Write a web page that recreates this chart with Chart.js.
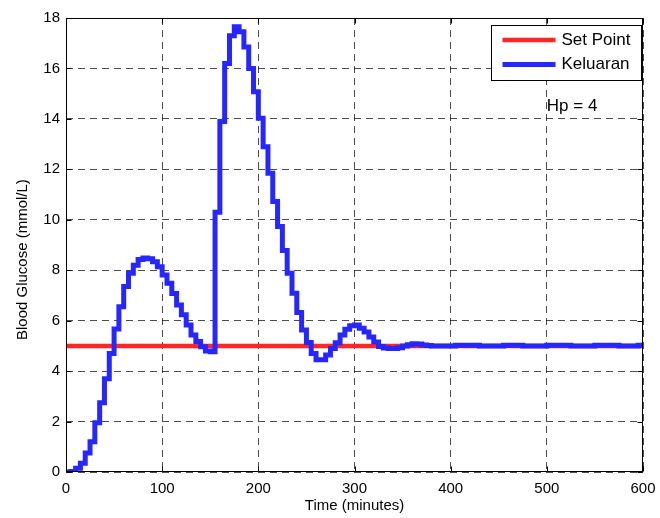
<!DOCTYPE html>
<html>
<head>
<meta charset="utf-8">
<script src="https://cdn.jsdelivr.net/npm/chart.js@4.4.1/dist/chart.umd.min.js"></script>
<style>
  html, body { margin: 0; padding: 0; background: #fff; }
  #wrap { width: 660px; height: 518px; }
</style>
</head>
<body>
<div id="wrap"><canvas id="chart" width="660" height="518"></canvas></div>
<script>
// sample times (minutes), one controller step every 5 min
const timeMinutes = [
  0, 5, 10, 15, 20, 25, 30, 35, 40, 45, 50, 55, 60, 65, 70, 75, 80, 85, 90, 95,
  100, 105, 110, 115, 120, 125, 130, 135, 140, 145, 150, 155, 160, 165, 170, 175, 180, 185, 190, 195,
  200, 205, 210, 215, 220, 225, 230, 235, 240, 245, 250, 255, 260, 265, 270, 275, 280, 285, 290, 295,
  300, 305, 310, 315, 320, 325, 330, 335, 340, 345, 350, 355, 360, 365, 370, 375, 380, 385, 390, 395,
  400, 405, 410, 415, 420, 425, 430, 435, 440, 445, 450, 455, 460, 465, 470, 475, 480, 485, 490, 495,
  500, 505, 510, 515, 520, 525, 530, 535, 540, 545, 550, 555, 560, 565, 570, 575, 580, 585, 590, 595,
  600
];

// blood glucose output (mmol/L)
const keluaran = [
  0, 0.02, 0.15, 0.35, 0.75, 1.2, 1.95, 2.75, 3.7, 4.7, 5.67, 6.55, 7.35, 7.88, 8.2, 8.43, 8.48, 8.45, 8.34, 8.14,
  7.81, 7.48, 7.08, 6.62, 6.23, 5.83, 5.43, 5.17, 4.97, 4.8, 4.77, 10.3, 13.9, 16.2, 17.3, 17.65, 17.45, 16.85, 16.0, 15.08,
  14.03, 12.9, 11.84, 10.72, 9.73, 8.78, 7.88, 7.09, 6.32, 5.63, 5.13, 4.7, 4.45, 4.45, 4.64, 4.9, 5.12, 5.43, 5.66, 5.8,
  5.83, 5.7, 5.55, 5.35, 5.15, 4.98, 4.92, 4.9, 4.9, 4.93, 5.0, 5.05, 5.08, 5.07, 5.04, 5.02, 5.0, 5.0, 5.0, 5.0,
  5.0, 5.03, 5.03, 5.03, 5.03, 5.03, 5.0, 5.0, 5.0, 5.0, 5.0, 5.03, 5.03, 5.03, 5.03, 5.0, 5.0, 5.0, 5.0, 5.0,
  5.03, 5.03, 5.03, 5.03, 5.03, 5.0, 5.0, 5.0, 5.0, 5.0, 5.03, 5.03, 5.03, 5.03, 5.03, 5.0, 5.0, 5.0, 5.0, 5.03,
  5.03
];

const setPointTimes = [0, 600];
const setPointValues = [5, 5];

const xTicks = [0, 100, 200, 300, 400, 500, 600];
const yTicks = [0, 2, 4, 6, 8, 10, 12, 14, 16, 18];

const labels = ['Set Point', 'Keluaran'];
const note = { text: 'Hp = 4', x: 500, y: 14.5 };

const FONT = '"Liberation Sans", Arial, Helvetica, sans-serif';
const RED = '#ff2626';
const BLUE = '#2626ff';

function toPoints(xs, ys) {
    return xs.map((x, i) => ({ x, y: ys[i] }));
}

// box, inward ticks, legend and annotation, MATLAB style
const matlabAxes = {
    id: 'matlabAxes',
    afterDatasetsDraw(chart) {
        const { ctx, chartArea: a, scales: { x, y } } = chart;
        const L = Math.round(a.left) + 0.5, R = Math.round(a.right) - 0.5;
        const T = Math.round(a.top) + 0.5, B = Math.round(a.bottom) - 0.5;
        ctx.save();
        ctx.strokeStyle = '#000';
        ctx.lineWidth = 1;
        ctx.setLineDash([]);
        ctx.strokeRect(L, T, R - L, B - T);

        ctx.beginPath();
        xTicks.forEach(v => {
            const px = Math.round(x.getPixelForValue(v)) + 0.5;
            ctx.moveTo(px, B); ctx.lineTo(px, B - 5);
            ctx.moveTo(px, T); ctx.lineTo(px, T + 5);
        });
        yTicks.forEach(v => {
            const py = Math.round(y.getPixelForValue(v)) + 0.5;
            ctx.moveTo(L, py); ctx.lineTo(L + 5, py);
            ctx.moveTo(R, py); ctx.lineTo(R - 5, py);
        });
        ctx.stroke();

        // annotation
        ctx.fillStyle = '#000';
        ctx.font = '17px ' + FONT;
        ctx.textBaseline = 'middle';
        ctx.textAlign = 'left';
        ctx.fillText(note.text, x.getPixelForValue(note.x), y.getPixelForValue(note.y));

        // legend box
        const bw = 150, bh = 55;
        const bx = Math.round(a.right) - 1.5 - bw, by = Math.round(a.top) + 7.5;
        ctx.fillStyle = '#fff';
        ctx.fillRect(bx, by, bw, bh);
        ctx.strokeRect(bx, by, bw, bh);

        chart.data.datasets.forEach(ds => {
            const row = labels.indexOf(ds.label);
            const ly = by + 14.5 + row * 24.5;
            ctx.strokeStyle = ds.borderColor;
            ctx.lineWidth = ds.borderWidth;
            ctx.beginPath();
            ctx.moveTo(bx + 11, ly);
            ctx.lineTo(bx + 64, ly);
            ctx.stroke();
            ctx.fillStyle = '#000';
            ctx.fillText(ds.label, bx + 70, ly);
        });
        ctx.restore();
    }
};

const tickFont = { family: FONT, size: 15 };

new Chart(document.getElementById('chart'), {
    type: 'line',
    data: {
        datasets: [
            {
                label: labels[1],
                data: toPoints(timeMinutes, keluaran),
                borderColor: BLUE,
                borderWidth: 5,
                stepped: true,
                pointRadius: 0,
                fill: false,
                order: 0,
            },
            {
                label: labels[0],
                data: toPoints(setPointTimes, setPointValues),
                borderColor: RED,
                borderWidth: 4.5,
                pointRadius: 0,
                fill: false,
                order: 1,
            },
        ],
    },
    options: {
        responsive: false,
        animation: false,
        devicePixelRatio: 1,
        layout: { padding: { top: 18, right: 17, left: 0, bottom: 0 } },
        plugins: { legend: { display: false }, tooltip: { enabled: false } },
        scales: {
            x: {
                type: 'linear',
                min: 0,
                max: 600,
                afterBuildTicks: s => { s.ticks = xTicks.map(value => ({ value })); },
                afterFit: s => { s.height = 46; s.paddingLeft = 0; s.paddingRight = 0; },
                ticks: { font: tickFont, color: '#000', padding: 8, maxRotation: 0 },
                grid: { color: 'rgba(0,0,0,0.7)', lineWidth: 1, drawTicks: false },
                border: { display: false, dash: [7, 5] },
                title: { display: true, text: 'Time (minutes)', font: tickFont, color: '#000', padding: { top: 0, bottom: 3 } },
            },
            y: {
                min: 0,
                max: 18,
                afterBuildTicks: s => { s.ticks = yTicks.map(value => ({ value })); },
                afterFit: s => { s.width = 66; s.paddingTop = 0; s.paddingBottom = 0; },
                ticks: { font: tickFont, color: '#000', padding: 6 },
                grid: { color: 'rgba(0,0,0,0.7)', lineWidth: 1, drawTicks: false },
                border: { display: false, dash: [7, 5] },
                // trailing spaces push the label a little below the axis centre, as in the original
                title: { display: true, text: 'Blood Glucose (mmol/L)       ', font: tickFont, color: '#000', padding: { top: 14, bottom: 0 } },
            },
        },
    },
    plugins: [matlabAxes],
});
</script>
</body>
</html>
